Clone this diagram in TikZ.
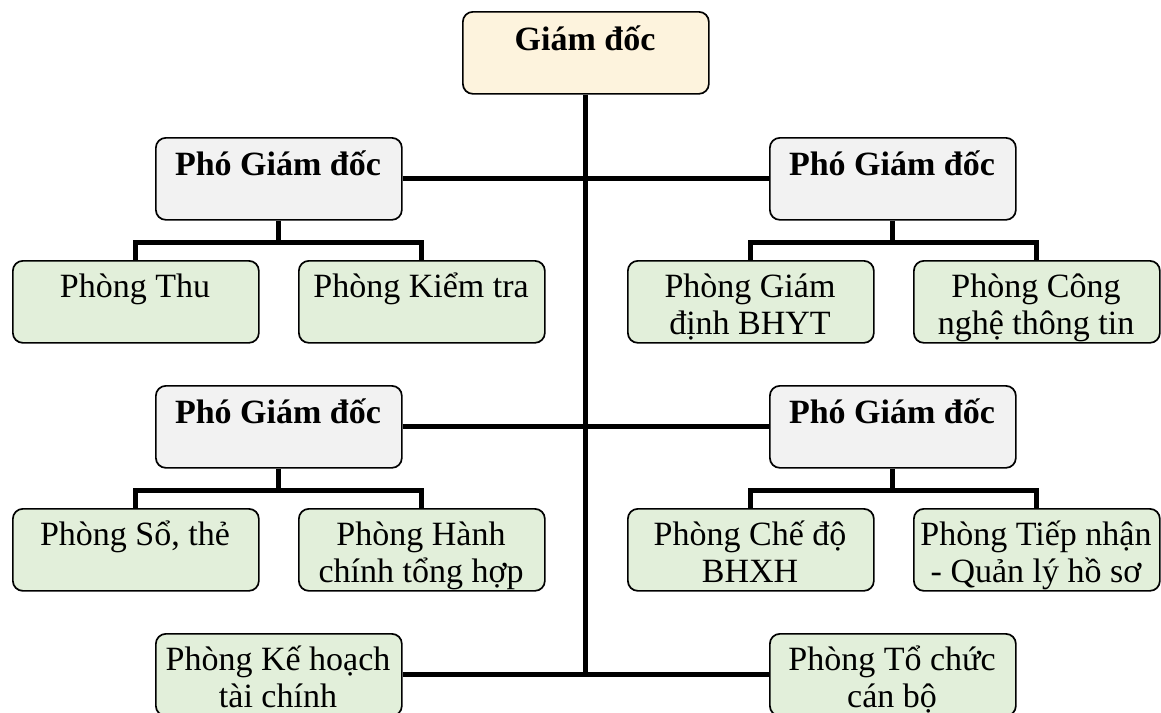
\documentclass[tikz,border=0pt]{standalone}
\usepackage{fontspec}
\setmainfont{Liberation Serif}
\definecolor{cream}{HTML}{FDF3DD}
\definecolor{pale}{HTML}{F2F2F2}
\definecolor{mint}{HTML}{E2EFDA}
\begin{document}
\begin{tikzpicture}[x=1pt,y=-1pt,
  box/.style={draw=black,line width=1.7pt,rounded corners=10pt,minimum width=246pt,minimum height=82pt,inner sep=0pt,anchor=north west},
  headbox/.style={box,fill=cream},
  vicebox/.style={box,fill=pale},
  deptbox/.style={box,fill=mint},
  ln/.style={anchor=base,inner sep=0pt,font=\fontsize{34}{38}\selectfont},
  bl/.style={anchor=base,inner sep=0pt,font=\fontsize{34}{38}\selectfont\bfseries},
  link/.style={line width=5pt}]
\useasboundingbox (0,0) rectangle (1161,712);
% boxes
\node[headbox] (gd) at (462,11) {};
\node[vicebox] (v1) at (155,137) {};
\node[vicebox] (v2) at (769,137) {};
\node[vicebox] (v3) at (155,385) {};
\node[vicebox] (v4) at (769,385) {};
\node[deptbox] (d1) at (12,260) {};
\node[deptbox] (d2) at (298,260) {};
\node[deptbox] (d3) at (627,260) {};
\node[deptbox] (d4) at (913,260) {};
\node[deptbox] (d5) at (12,508) {};
\node[deptbox] (d6) at (298,508) {};
\node[deptbox] (d7) at (627,508) {};
\node[deptbox] (d8) at (913,508) {};
\node[deptbox] (kh) at (155,633) {};
\node[deptbox] (tc) at (769,633) {};
% connectors
\draw[link] (gd.south) -- (gd.south |- kh.east);
\draw[link] (v1.east) -- (v2.west);
\draw[link] (v3.east) -- (v4.west);
\draw[link] (kh.east) -- (tc.west);
\draw[link] (v1.south) -- ++(0,22) coordinate (b1);
\draw[link] (d1.north) |- (b1) -| (d2.north);
\draw[link] (v2.south) -- ++(0,22) coordinate (b2);
\draw[link] (d3.north) |- (b2) -| (d4.north);
\draw[link] (v3.south) -- ++(0,22) coordinate (b3);
\draw[link] (d5.north) |- (b3) -| (d6.north);
\draw[link] (v4.south) -- ++(0,22) coordinate (b4);
\draw[link] (d7.north) |- (b4) -| (d8.north);
% texts
\node[bl] (gdt) at (585,50) {Giám đốc};
\node[bl] (v1t) at (278,175) {Phó Giám đốc};
\node[bl] (v2t) at (892,175) {Phó Giám đốc};
\node[bl] (v3t) at (278,423) {Phó Giám đốc};
\node[bl] (v4t) at (892,423) {Phó Giám đốc};
\node[ln] (d1t) at (135,297) {Phòng Thu};
\node[ln] (d2t) at (421,297) {Phòng Kiểm tra};
\node[ln] (d3a) at (750,297) {Phòng Giám};
\node[ln] (d3b) at (750,334) {định BHYT};
\node[ln] (d4a) at (1036,297) {Phòng Công};
\node[ln] (d4b) at (1036,334) {nghệ thông tin};
\node[ln] (d5t) at (135,545) {Phòng Sổ, thẻ};
\node[ln] (d6a) at (421,545) {Phòng Hành};
\node[ln] (d6b) at (421,582) {chính tổng hợp};
\node[ln] (d7a) at (750,545) {Phòng Chế độ};
\node[ln] (d7b) at (750,582) {BHXH};
\node[ln] (d8a) at (1036,545) {Phòng Tiếp nhận};
\node[ln] (d8b) at (1036,582) {- Quản lý hồ sơ};
\node[ln] (kha) at (278,670) {Phòng Kế hoạch};
\node[ln] (khb) at (278,707) {tài chính};
\node[ln] (tca) at (892,670) {Phòng Tổ chức};
\node[ln] (tcb) at (892,707) {cán bộ};
\end{tikzpicture}
\end{document}
